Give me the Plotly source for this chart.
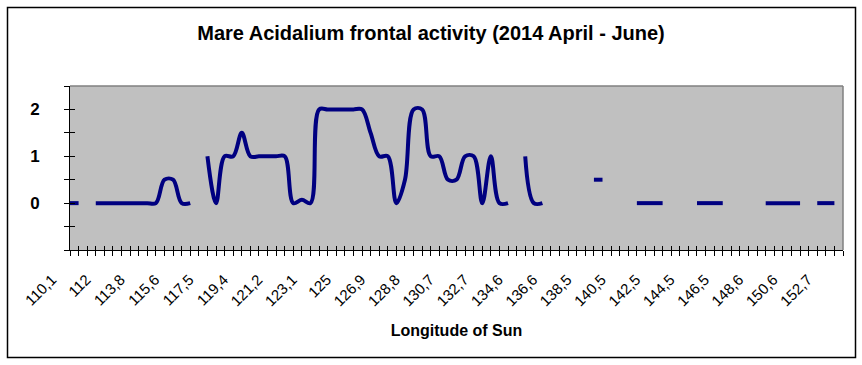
import plotly.graph_objects as go

# ---- data -------------------------------------------------------------
# one category per day (2014 April - June), Ls labels shown every 4th day
day_index = list(range(91))

activity = [
    0, 0, None, 0, 0, 0, 0, 0, 0, 0,          # 0-9
    0, 0.5, 0.5, 0, 0, None, 1, 0, 1, 1,      # 10-19
    1.5, 1, 1, 1, 1, 1, 0, 0.07, 0, 2,        # 20-29
    2, 2, 2, 2, 2, 1.5, 1, 1, 0, 0.5,         # 30-39
    2, 2, 1, 1, 0.5, 0.5, 1, 1, 0, 1,         # 40-49
    0, 0, None, 1, 0, 0, None, None, None, None,  # 50-59
    None, 0.5, 0.5, None, None, None, 0, 0, 0, 0,  # 60-69
    None, None, None, 0, 0, 0, 0, None, None, None,  # 70-79
    None, 0, 0, 0, 0, 0, None, 0, 0, 0,       # 80-89
    None,                                     # 90
]

ls_labels = ["110,1", "112", "113,8", "115,6", "117,5", "119,4", "121,2",
             "123,1", "125", "126,9", "128,8", "130,7", "132,7", "134,6",
             "136,6", "138,5", "140,5", "142,5", "144,5", "146,5", "148,6",
             "150,6", "152,7"]
label_step = 4

y_tickvals = [-1, -0.5, 0, 0.5, 1, 1.5, 2, 2.5]
y_ticktext = ["", "", "0", "", "1", "", "2", ""]

title_text = "Mare Acidalium frontal activity (2014 April - June)"
x_title = "Longitude of Sun"

# ---- build ------------------------------------------------------------
x_ticktext = []
for i in day_index:
    if i % label_step == 0 and i // label_step < len(ls_labels):
        x_ticktext.append(ls_labels[i // label_step])
    else:
        x_ticktext.append("")

FONT = "Liberation Sans, Arial, sans-serif"
W, H = 862, 365
L, R, T, B = 70, 19, 86, 115

fig = go.Figure()
fig.add_trace(go.Scatter(
    x=day_index, y=activity, mode="lines",
    line=dict(color="#000080", width=4, shape="spline", smoothing=1.0),
    connectgaps=False, showlegend=False, hoverinfo="skip",
))
# empty trace so the overlay axes (inner half of the crossing ticks) exist
fig.add_trace(go.Scatter(x=[], y=[], xaxis="x2", yaxis="y2",
                         showlegend=False, hoverinfo="skip"))

x_range = [day_index[0], day_index[-1]]
y_range = [y_tickvals[0], y_tickvals[-1]]

fig.update_layout(
    width=W, height=H,
    margin=dict(l=L, r=R, t=T, b=B, autoexpand=False),
    paper_bgcolor="white", plot_bgcolor="#C0C0C0",
    font=dict(family=FONT, color="black"),
    title=dict(text=title_text, x=0.5, xanchor="center",
               y=1 - 33 / H, yanchor="middle", yref="container",
               font=dict(size=20, weight="bold", family=FONT)),
    xaxis=dict(
        range=x_range, showgrid=False, zeroline=False,
        showline=True, linecolor="black", linewidth=1,
        tickmode="array", tickvals=day_index, ticktext=x_ticktext,
        ticks="outside", ticklen=5, tickcolor="black", tickwidth=1,
        tickangle=-45, tickfont=dict(size=15, family=FONT),
        ticklabelshift=-18, ticklabelstandoff=9,
        title=dict(text=x_title, standoff=16,
                   font=dict(size=16, weight="bold", family=FONT)),
        automargin=False,
    ),
    yaxis=dict(
        range=y_range, showgrid=False, zeroline=False,
        showline=True, linecolor="black", linewidth=1,
        tickmode="array", tickvals=y_tickvals, ticktext=y_ticktext,
        ticks="outside", ticklen=5, tickcolor="black", tickwidth=1,
        tickfont=dict(size=17, weight="bold", family=FONT),
        ticklabelstandoff=21, automargin=False,
    ),
    xaxis2=dict(
        overlaying="x", anchor="y2", side="bottom", range=x_range,
        showgrid=False, zeroline=False, showline=False,
        tickmode="array", tickvals=day_index, showticklabels=False,
        ticks="inside", ticklen=4, tickcolor="black", tickwidth=1,
    ),
    yaxis2=dict(
        overlaying="y", anchor="x2", side="left", range=y_range,
        showgrid=False, zeroline=False, showline=False,
        tickmode="array", tickvals=y_tickvals, showticklabels=False,
        ticks="inside", ticklen=5, tickcolor="black", tickwidth=1,
    ),
)

# grey top/right frame of the plot area
fig.add_shape(type="line", xref="paper", yref="paper", x0=0, x1=1, y0=1, y1=1,
              line=dict(color="#808080", width=1.5), layer="above")
fig.add_shape(type="line", xref="paper", yref="paper", x0=1, x1=1, y0=0, y1=1,
              line=dict(color="#808080", width=1.5), layer="above")

# black outer chart border
pw, ph = W - L - R, H - T - B
def px_x(p):
    return (p - L) / pw
def px_y(p):
    return (H - B - p) / ph
fig.add_shape(type="rect", xref="paper", yref="paper",
              x0=px_x(7.5), x1=px_x(855.5), y0=px_y(357.5), y1=px_y(7.5),
              line=dict(color="black", width=1.5), layer="above")

fig.write_html("out.html", config={"displayModeBar": False},
               post_script="document.body.style.margin='0';document.body.style.overflow='hidden';")
